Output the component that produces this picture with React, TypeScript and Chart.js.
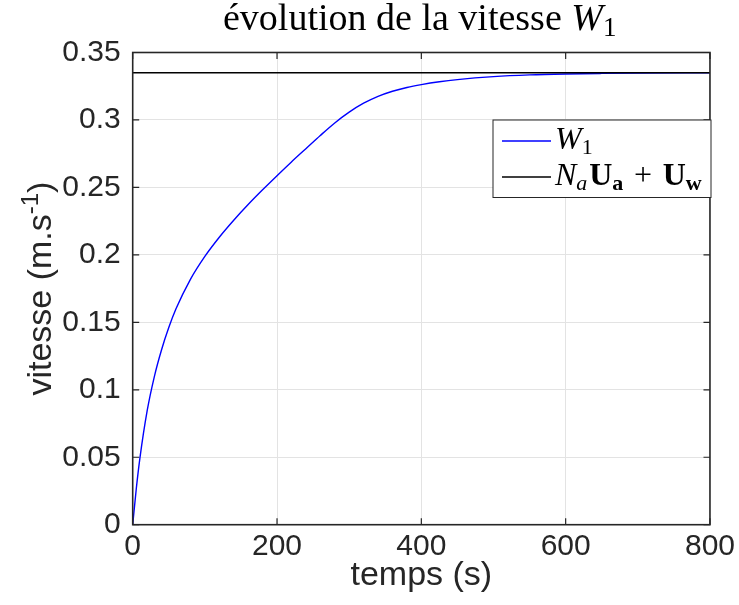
import React, { useEffect, useRef } from "react";
import { Chart, registerables } from "chart.js";

Chart.register(...registerables);

// ---- data ----
const times = [0, 5, 10, 20, 30, 40, 50, 60, 80, 100, 120, 140, 160, 180, 200, 220, 240, 260, 280, 300, 320, 340, 360, 380, 400, 425, 450, 500, 550, 600, 650, 700, 800];
const w1 = [0, 0.0268, 0.0493, 0.0843, 0.1098, 0.1297, 0.1461, 0.16, 0.1819, 0.1989, 0.2131, 0.2257, 0.2373, 0.2482, 0.2587, 0.2689, 0.2787, 0.2885, 0.2978, 0.3058, 0.3124, 0.3175, 0.3213, 0.3241, 0.3262, 0.3283, 0.3299, 0.3321, 0.3334, 0.3341, 0.3345, 0.33475, 0.335];
const asymptoteTimes = [0, 800];
const asymptoteValue = 0.335;
const xTicks = [0, 200, 400, 600, 800];
const xTickLabels = ["0", "200", "400", "600", "800"];
const yTicks = [0, 0.05, 0.1, 0.15, 0.2, 0.25, 0.3, 0.35];
const yTickLabels = ["0", "0.05", "0.1", "0.15", "0.2", "0.25", "0.3", "0.35"];

const titleText = "évolution de la vitesse ";
const xLabel = "temps (s)";
const yLabel = "vitesse (m.s";

const AX = "#262626";
const SANS = '"Liberation Sans", Arial, sans-serif';
const SERIF = '"Liberation Serif", "Times New Roman", serif';

type Seg = { t: string; font: string; dy?: number };

function richWidth(ctx: CanvasRenderingContext2D, segs: Seg[]) {
  let w = 0;
  for (const s of segs) {
    ctx.font = s.font;
    w += ctx.measureText(s.t).width;
  }
  return w;
}

function drawRich(ctx: CanvasRenderingContext2D, segs: Seg[], x: number, y: number, align: "left" | "center") {
  const total = richWidth(ctx, segs);
  let cx = align === "center" ? x - total / 2 : x;
  ctx.textAlign = "left";
  ctx.textBaseline = "alphabetic";
  for (const s of segs) {
    ctx.font = s.font;
    ctx.fillText(s.t, cx, y + (s.dy || 0));
    cx += ctx.measureText(s.t).width;
  }
}

const decor = {
  id: "matlabDecor",
  afterDraw(chart: any) {
    const { ctx, chartArea: a, scales } = chart;
    const xs = scales.x;
    const ys = scales.y;
    ctx.save();
    // inner tick marks
    ctx.strokeStyle = AX;
    ctx.lineWidth = 1.2;
    const tl = 6.5;
    ctx.beginPath();
    for (const v of xTicks) {
      const px = xs.getPixelForValue(v);
      ctx.moveTo(px, a.bottom);
      ctx.lineTo(px, a.bottom - tl);
      ctx.moveTo(px, a.top);
      ctx.lineTo(px, a.top + tl);
    }
    for (const v of yTicks) {
      const py = ys.getPixelForValue(v);
      ctx.moveTo(a.left, py);
      ctx.lineTo(a.left + tl, py);
      ctx.moveTo(a.right, py);
      ctx.lineTo(a.right - tl, py);
    }
    ctx.stroke();
    // box
    ctx.lineWidth = 1.6;
    ctx.strokeRect(a.left, a.top, a.right - a.left, a.bottom - a.top);

    // legend
    const lx = 493, ly = 120, lw = 218, lh = 77.5;
    ctx.fillStyle = "#ffffff";
    ctx.fillRect(lx, ly, lw, lh);
    ctx.lineWidth = 1;
    ctx.strokeStyle = AX;
    ctx.strokeRect(lx, ly, lw, lh);
    ctx.lineWidth = 1.4;
    ctx.strokeStyle = "#0000ff";
    ctx.beginPath();
    ctx.moveTo(502, 141);
    ctx.lineTo(551, 141);
    ctx.stroke();
    ctx.strokeStyle = "#000000";
    ctx.beginPath();
    ctx.moveTo(502, 177);
    ctx.lineTo(551, 177);
    ctx.stroke();
    ctx.fillStyle = "#000000";
    drawRich(ctx, [
      { t: "W", font: `italic 32px ${SERIF}` },
      { t: "1", font: `22px ${SERIF}`, dy: 5 },
    ], 555, 148.5, "left");
    drawRich(ctx, [
      { t: "N", font: `italic 32px ${SERIF}` },
      { t: "a\u200A", font: `italic 22px ${SERIF}`, dy: 5 },
      { t: "U", font: `bold 32px ${SERIF}` },
      { t: "a", font: `bold 22px ${SERIF}`, dy: 5 },
      { t: "\u2004+\u2004", font: `32px ${SERIF}` },
      { t: "U", font: `bold 32px ${SERIF}` },
      { t: "w", font: `bold 22px ${SERIF}`, dy: 5 },
    ], 555, 184.5, "left");

    // title
    ctx.fillStyle = "#000000";
    drawRich(ctx, [
      { t: titleText, font: `38px ${SERIF}` },
      { t: "W", font: `italic 38px ${SERIF}` },
      { t: "1", font: `27px ${SERIF}`, dy: 6 },
    ], 419.7, 29.5, "center");

    // x label
    ctx.fillStyle = AX;
    drawRich(ctx, [{ t: xLabel, font: `34px ${SANS}` }], (a.left + a.right) / 2, 585, "center");

    // y label
    ctx.save();
    ctx.translate(51, (a.top + a.bottom) / 2);
    ctx.rotate(-Math.PI / 2);
    drawRich(ctx, [
      { t: yLabel, font: `34px ${SANS}` },
      { t: "-1", font: `24px ${SANS}`, dy: -13 },
      { t: ")", font: `34px ${SANS}` },
    ], 0, 0, "center");
    ctx.restore();
    ctx.restore();
  },
};

export default function App() {
  const ref = useRef<HTMLCanvasElement | null>(null);
  useEffect(() => {
    if (!ref.current) return;
    const chart = new Chart(ref.current, {
      type: "line",
      data: {
        datasets: [
          {
            label: "W1",
            data: times.map((t, i) => ({ x: t, y: w1[i] })),
            borderColor: "#0000ff",
            borderWidth: 1.4,
            pointRadius: 0,
            cubicInterpolationMode: "monotone",
            order: 1,
          },
          {
            label: "NaUa + Uw",
            data: asymptoteTimes.map((t) => ({ x: t, y: asymptoteValue })),
            borderColor: "#000000",
            borderWidth: 1.4,
            pointRadius: 0,
            order: 0,
          },
        ],
      },
      options: {
        animation: false,
        responsive: false,
        devicePixelRatio: 1,
        layout: { padding: { left: 0, top: 52.5, right: 27.5, bottom: 0 } },
        plugins: { legend: { display: false }, title: { display: false }, tooltip: { enabled: false } },
        scales: {
          x: {
            type: "linear",
            min: 0,
            max: 800,
            afterBuildTicks: (s: any) => { s.ticks = xTicks.map((v) => ({ value: v })); },
            afterFit: (s: any) => { s.height = 80.3; },
            ticks: {
              callback: (_v: any, i: number) => xTickLabels[i],
              font: { family: SANS, size: 30 },
              color: AX,
              padding: 4,
              maxRotation: 0,
              autoSkip: false,
            },
            grid: { color: "#e3e3e3", lineWidth: 1, drawTicks: false },
            border: { display: false },
          },
          y: {
            type: "linear",
            min: 0,
            max: 0.35,
            afterBuildTicks: (s: any) => { s.ticks = yTicks.map((v) => ({ value: v })); },
            afterFit: (s: any) => { s.width = 132.7; },
            ticks: {
              callback: (_v: any, i: number) => yTickLabels[i],
              font: { family: SANS, size: 30 },
              color: AX,
              padding: 12,
              autoSkip: false,
            },
            grid: { color: "#e3e3e3", lineWidth: 1, drawTicks: false },
            border: { display: false },
          },
        },
      },
      plugins: [decor],
    } as any);
    return () => chart.destroy();
  }, []);
  return (
    <div style={{ position: "absolute", left: 0, top: 0, width: 739, height: 605, background: "#fff" }}>
      <canvas ref={ref} width={739} height={605} style={{ width: 739, height: 605, display: "block" }} />
    </div>
  );
}
